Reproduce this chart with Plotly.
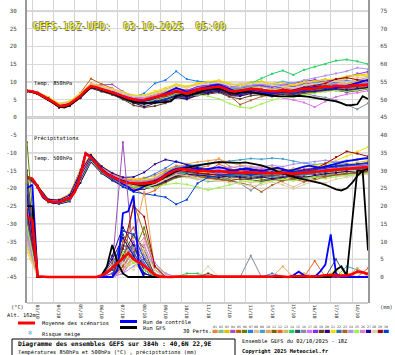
import plotly.graph_objects as go

# ---------------- data ----------------
H6 = list(range(0, 385, 6))      # hours since 02/10 18Z, 6-hourly
H12 = list(range(0, 385, 12))    # 12-hourly (perturbations)
DAY_GRID_H = [6 + 24 * k for k in range(16)]   # 00Z of each day
DAY_LABELS = ["03/10", "04/10", "05/10", "06/10", "07/10", "08/10", "09/10", "10/10",
              "11/10", "12/10", "13/10", "14/10", "15/10", "16/10", "17/10", "18/10"]
LEFT_TICKS = list(range(-45, 31, 5))
RIGHT_TICKS = list(range(0, 76, 5))

PERT_COLORS = ["#f08040", "#80c080", "#e0c000", "#a050c0", "#c06010", "#608000",
               "#2080f0", "#e0c090", "#40a0d0", "#f0a050", "#806000", "#f06020",
               "#c0c070", "#20d060", "#305070", "#8090a0", "#e070f0", "#8030f0",
               "#604020", "#300070", "#f0e000", "#3070b0", "#b06020", "#b090f0",
               "#a0f050", "#e080d0", "#2000a0", "#e0d0b0", "#a00000", "#0040d0"]

MEAN_850 = [7.5, 7.3, 6.8, 6.0, 5.3, 4.3, 3.3, 3.2, 3.8, 4.8,
            6.0, 7.6, 8.8, 8.5, 8.0, 7.6, 7.2, 6.6, 6.0, 5.4,
            5.0, 4.8, 4.9, 5.3, 5.6, 5.9, 6.3, 6.9, 7.5, 7.2,
            6.8, 7.3, 7.9, 8.1, 8.3, 8.5, 8.7, 8.2, 7.5, 7.3,
            7.5, 7.7, 8.0, 7.9, 7.7, 7.5, 7.3, 7.4, 7.6, 7.3,
            7.4, 7.8, 8.1, 8.0, 8.3, 8.5, 8.7, 8.6, 8.9, 8.8,
            8.7, 9.0, 9.1, 9.0, 9.2]
CTRL_850 = [7.5, 7.4, 6.9, 6.1, 5.2, 4.1, 3.1, 3.0, 3.6, 4.6,
            5.9, 7.5, 8.7, 8.4, 7.9, 7.4, 7.0, 6.3, 5.6, 5.0,
            4.5, 4.4, 4.6, 5.0, 5.5, 6.1, 6.8, 7.6, 8.3, 7.8,
            7.2, 7.6, 8.0, 8.4, 8.7, 9.0, 9.2, 8.6, 7.8, 7.4,
            7.1, 7.4, 7.8, 7.6, 7.3, 7.0, 6.9, 7.1, 7.4, 7.2,
            7.5, 8.0, 8.4, 8.2, 8.6, 8.8, 8.5, 8.3, 8.4, 8.6,
            8.9, 9.3, 9.8, 10.3, 10.6]
GFS_850 = [7.4, 7.2, 6.6, 5.8, 5.0, 4.0, 3.0, 2.8, 3.4, 4.5,
           5.7, 7.3, 8.5, 8.3, 7.7, 7.2, 6.8, 6.2, 5.5, 4.9,
           4.4, 4.2, 4.0, 4.0, 4.2, 4.2, 4.3, 4.5, 6.0, 6.5,
           6.0, 6.5, 7.0, 7.4, 7.8, 8.0, 8.1, 7.6, 7.0, 6.8,
           7.0, 7.2, 7.1, 6.8, 6.5, 6.3, 6.1, 6.0, 6.0, 5.8,
           5.9, 6.1, 6.0, 5.8, 5.5, 5.3, 5.0, 4.8, 4.5, 4.0,
           3.4, 3.5, 3.7, 6.0, 5.2]

MEAN_500 = [-16.8, -17.3, -19.5, -22.3, -23.5, -23.9, -23.8, -23.4, -22.8, -21.0,
            -16.5, -10.2, -11.3, -13.0, -14.8, -16.0, -16.8, -17.6, -18.2, -18.5,
            -18.7, -18.7, -18.7, -18.6, -18.3, -17.5, -16.3, -15.5, -14.8, -14.5,
            -14.6, -14.9, -15.1, -15.0, -15.2, -15.3, -15.1, -15.3, -15.5, -15.4,
            -15.6, -15.5, -15.5, -15.4, -15.6, -15.7, -15.8, -15.6, -15.7, -15.9,
            -15.8, -15.7, -15.6, -15.4, -15.5, -15.2, -15.0, -14.9, -14.8, -14.6,
            -14.5, -14.3, -14.2, -14.1, -14.0]
CTRL_500 = [-16.8, -17.4, -19.7, -22.6, -23.7, -24.1, -23.9, -23.5, -22.6, -20.5,
            -15.8, -10.0, -11.0, -12.8, -14.6, -15.9, -16.9, -17.9, -18.8, -19.6,
            -20.8, -20.2, -19.5, -18.9, -18.2, -17.3, -16.0, -15.1, -14.5, -14.2,
            -14.0, -14.3, -14.6, -14.8, -14.5, -14.2, -14.0, -14.3, -14.8, -15.0,
            -14.7, -14.4, -14.6, -14.9, -15.1, -14.8, -14.5, -14.2, -14.6, -15.0,
            -14.8, -14.3, -13.9, -13.6, -13.9, -14.2, -13.8, -13.4, -13.0, -12.6,
            -12.3, -12.1, -11.8, -11.6, -11.5]
GFS_500 = [-16.8, -17.3, -19.4, -22.4, -23.6, -24.0, -23.8, -23.3, -22.6, -20.6,
           -16.3, -10.4, -11.1, -12.9, -14.6, -15.8, -16.6, -17.3, -17.9, -18.4,
           -18.8, -19.0, -19.2, -18.9, -18.5, -17.6, -16.7, -16.0, -15.2, -14.6,
           -14.2, -13.8, -13.5, -13.2, -13.0, -12.8, -12.6, -12.7, -12.8, -12.9,
           -12.8, -12.7, -12.9, -13.2, -13.5, -14.0, -14.5, -15.2, -15.8, -16.3,
           -16.8, -17.2, -17.5, -17.8, -18.0, -18.5, -19.0, -19.6, -20.3, -20.6,
           -20.0, -18.5, -16.5, -15.0, -14.5]

MEAN_PREC = [17, 16, 0.2, 0, 0, 0, 0, 0, 0, 0,
             0, 0, 0, 0, 0.4, 1.3, 2.6, 4.0, 5.5, 6.7,
             5.0, 4.0, 3.2, 1.8, 0.6, 0.1, 0, 0, 0.1, 0.1,
             0, 0.1, 0, 0, 0.2, 0, 0.1, 0, 0, 0.2,
             0.1, 0, 0, 0.2, 0.1, 0, 0.1, 0.3, 0.1, 0,
             0.2, 0.3, 0.2, 0.1, 0.1, 0.3, 0.5, 0.6, 0.4, 0.3,
             0.4, 0.8, 1.5, 1.3, 0.8]
CTRL_PREC = [25, 26, 0, 0, 0, 0, 0, 0, 0, 0,
             0, 0, 0, 0, 0, 0, 0, 2, 18, 18.5,
             23, 3, 0, 0, 0, 0, 0, 0, 0, 0,
             0, 0, 0, 0, 0, 0, 0, 0, 0, 0,
             0, 0, 0, 0, 0, 0, 0, 0, 0, 0,
             0.5, 1.5, 0.5, 0, 0, 1.5, 3.5, 12, 1, 0,
             0, 0, 0, 0, 0]
GFS_PREC = [20, 20, 0, 0, 0, 0, 0, 0, 0, 0,
            0, 0, 0, 0, 0.5, 3, 9, 4, 1, 0,
            0, 0, 0, 0, 0, 0, 0, 0, 0, 0,
            0, 0, 0, 0, 0, 0, 0, 0, 0, 0,
            0, 0, 0, 0, 0, 0, 0, 0, 0, 0,
            0, 0, 0, 0, 0, 0, 0, 0, 2, 3,
            0.5, 15, 30, 30, 7.5]

T850_PERTS = [
    [7.6, 7.0, 5.5, 3.6, 4.0, 6.3, 9.3, 8.4, 7.8, 6.5, 5.6, 5.3, 6.5, 7.2, 8.3, 7.7, 8.6, 9.2, 9.4, 8.8, 8.1, 8.6, 8.9, 8.0, 8.4, 7.9, 8.8, 9.5, 9.0, 9.8, 9.6, 10.2, 9.9],
    [7.4, 6.6, 5.0, 2.9, 3.4, 5.8, 8.5, 7.6, 6.8, 5.4, 4.3, 4.0, 4.7, 5.5, 6.7, 6.2, 7.0, 7.4, 7.9, 6.8, 6.9, 7.3, 6.7, 6.5, 7.0, 6.4, 7.2, 7.6, 8.0, 8.1, 7.6, 8.3, 8.5],
    [7.5, 7.0, 5.6, 3.7, 4.3, 6.4, 9.0, 8.3, 7.9, 7.0, 6.1, 6.2, 7.0, 7.9, 9.2, 8.6, 9.5, 9.9, 10.3, 9.4, 9.0, 9.9, 10.2, 9.3, 9.0, 8.9, 9.7, 10.3, 10.8, 10.1, 11.4, 11.8, 12.3],
    [7.6, 7.1, 5.4, 3.5, 4.1, 6.6, 8.9, 9.2, 9.3, 7.3, 5.8, 5.6, 6.2, 7.0, 8.1, 7.6, 8.4, 9.0, 9.6, 8.4, 8.0, 9.1, 9.3, 8.8, 8.2, 8.6, 9.4, 9.8, 10.4, 10.7, 9.9, 10.5, 11.2],
    [7.5, 6.9, 5.5, 3.4, 4.2, 6.9, 10.9, 9.4, 8.2, 6.6, 5.4, 5.0, 5.9, 6.6, 7.5, 7.0, 8.0, 8.2, 8.5, 7.1, 6.8, 7.6, 7.4, 6.9, 7.5, 7.8, 8.4, 8.0, 8.6, 8.3, 8.0, 8.8, 9.0],
    [7.4, 6.7, 5.1, 3.0, 3.5, 5.6, 8.3, 7.4, 6.4, 5.1, 4.0, 3.6, 4.2, 4.9, 6.0, 5.3, 6.5, 7.2, 7.6, 6.4, 6.6, 7.2, 6.4, 6.1, 6.8, 6.3, 7.0, 7.2, 7.6, 7.9, 7.4, 8.0, 8.2],
    [7.5, 6.8, 5.2, 3.2, 3.9, 6.1, 8.9, 8.1, 7.4, 6.4, 5.7, 6.8, 9.6, 10.5, 13.0, 10.8, 10.2, 10.0, 9.8, 8.7, 8.4, 8.9, 9.0, 8.1, 8.5, 8.7, 9.2, 8.8, 9.5, 9.9, 10.4, 10.0, 10.6],
    [7.7, 7.2, 5.7, 3.9, 4.5, 6.5, 9.1, 8.6, 8.1, 7.2, 6.3, 6.0, 6.8, 7.6, 8.8, 8.2, 9.3, 9.6, 9.9, 9.2, 9.5, 9.8, 9.3, 8.6, 8.9, 8.2, 9.1, 9.5, 9.7, 10.3, 10.8, 11.3, 11.6],
    [7.5, 6.9, 5.3, 3.1, 3.7, 5.9, 8.7, 8.0, 7.0, 5.8, 4.7, 4.3, 5.1, 5.8, 6.9, 6.4, 7.6, 8.4, 9.0, 8.3, 8.7, 9.5, 9.2, 9.4, 10.1, 9.6, 10.3, 10.0, 9.4, 9.1, 8.8, 9.3, 9.6],
    [7.6, 7.1, 5.7, 3.8, 4.4, 6.8, 9.6, 8.9, 7.6, 6.4, 5.9, 5.7, 6.3, 7.1, 8.0, 7.4, 8.2, 8.7, 9.3, 8.0, 7.8, 8.5, 8.1, 7.5, 8.3, 9.1, 8.6, 8.5, 9.0, 9.3, 9.5, 10.1, 10.5],
    [7.4, 6.6, 4.9, 2.7, 3.2, 5.5, 8.4, 7.6, 6.7, 5.5, 4.2, 3.9, 4.5, 5.0, 6.2, 5.8, 6.8, 7.1, 7.4, 6.3, 6.1, 6.9, 7.1, 6.7, 7.2, 6.6, 7.3, 7.9, 8.1, 8.6, 8.3, 8.7, 8.9],
    [7.5, 6.9, 5.4, 3.3, 3.9, 6.2, 9.0, 8.2, 7.5, 6.2, 5.1, 4.6, 5.3, 6.2, 7.3, 6.6, 7.5, 8.0, 9.1, 7.9, 7.6, 8.3, 8.0, 7.7, 7.2, 7.0, 7.9, 8.4, 8.9, 8.6, 8.3, 8.6, 8.8],
    [7.6, 7.0, 5.6, 3.6, 4.0, 6.1, 8.8, 8.3, 7.7, 6.6, 5.7, 5.5, 6.1, 6.8, 7.9, 7.3, 8.1, 8.5, 8.7, 7.8, 7.9, 8.2, 8.6, 8.1, 8.0, 7.6, 8.3, 8.8, 9.4, 9.2, 9.8, 10.5, 10.9],
    [7.5, 6.8, 5.2, 3.3, 3.8, 5.9, 8.6, 7.8, 7.0, 5.9, 4.9, 4.6, 5.5, 6.3, 7.4, 6.9, 8.0, 8.6, 8.8, 8.2, 8.4, 9.6, 11.0, 12.3, 13.2, 12.0, 13.4, 14.3, 15.0, 16.0, 16.3, 15.8, 15.0],
    [7.4, 6.7, 5.0, 3.0, 3.6, 5.7, 8.6, 7.7, 6.9, 5.6, 4.4, 4.1, 4.6, 5.2, 6.4, 5.9, 7.2, 7.7, 8.2, 7.0, 7.1, 7.6, 7.2, 6.8, 7.3, 7.1, 7.8, 8.0, 8.3, 8.9, 8.5, 8.9, 9.3],
    [7.5, 6.8, 5.3, 3.2, 3.6, 5.8, 8.6, 7.9, 7.1, 5.7, 4.5, 4.2, 4.9, 5.6, 6.6, 6.0, 7.3, 7.5, 7.8, 6.9, 6.5, 7.0, 6.8, 6.3, 6.9, 6.2, 6.8, 6.1, 5.6, 4.8, 3.5, 2.3, 4.0],
    [7.6, 6.9, 5.4, 3.4, 4.1, 6.2, 8.9, 8.4, 7.9, 6.8, 5.8, 5.5, 6.0, 6.4, 7.2, 6.7, 7.6, 7.9, 8.3, 7.3, 7.0, 7.5, 7.0, 6.1, 5.6, 4.9, 4.2, 2.9, 4.5, 5.8, 6.5, 6.9, 7.5],
    [7.5, 6.9, 5.4, 3.5, 4.0, 6.0, 8.7, 8.1, 7.6, 6.2, 5.3, 5.2, 6.0, 6.9, 8.0, 7.5, 8.7, 9.2, 9.7, 8.6, 8.9, 9.3, 9.0, 8.5, 9.1, 9.6, 10.2, 10.6, 10.1, 10.8, 11.5, 12.4, 12.9],
    [7.4, 6.6, 5.0, 2.8, 3.3, 5.4, 8.2, 7.3, 6.4, 5.1, 3.4, 2.8, 3.2, 4.0, 5.6, 5.3, 6.3, 6.6, 7.0, 5.8, 5.2, 6.1, 6.4, 5.9, 6.5, 6.0, 6.8, 7.0, 7.4, 7.8, 7.1, 7.6, 8.0],
    [7.4, 6.7, 5.1, 2.9, 3.4, 5.6, 8.4, 7.5, 6.6, 5.3, 4.1, 3.0, 4.0, 4.5, 5.6, 5.1, 6.2, 6.9, 7.3, 6.1, 6.0, 6.7, 6.6, 6.2, 6.7, 6.5, 7.2, 7.5, 7.9, 7.6, 7.2, 7.9, 8.3],
    [7.6, 7.1, 5.8, 3.9, 4.6, 6.7, 9.2, 8.6, 8.0, 7.0, 6.2, 6.3, 7.4, 8.3, 9.4, 8.8, 9.7, 10.1, 10.5, 9.6, 9.1, 9.6, 9.9, 9.4, 9.8, 9.2, 10.0, 10.2, 10.5, 10.9, 11.6, 12.0, 11.7],
    [7.5, 6.8, 5.2, 3.1, 3.7, 5.9, 8.7, 7.9, 7.1, 5.8, 4.8, 4.5, 5.4, 6.1, 7.1, 6.6, 7.7, 8.3, 8.6, 7.6, 7.8, 8.3, 7.9, 7.4, 7.7, 7.4, 8.2, 8.5, 8.9, 9.4, 9.0, 9.5, 9.9],
    [7.5, 6.8, 5.3, 3.2, 3.8, 6.0, 8.9, 8.0, 7.2, 5.9, 4.7, 4.4, 5.0, 5.7, 6.8, 6.1, 7.0, 7.5, 7.9, 6.2, 3.6, 4.8, 5.9, 6.3, 6.9, 6.6, 7.4, 7.7, 8.2, 8.5, 8.1, 8.4, 8.6],
    [7.6, 7.0, 5.5, 3.5, 4.1, 6.3, 9.0, 8.4, 7.7, 6.5, 5.5, 5.3, 6.1, 6.8, 7.9, 7.3, 8.2, 8.7, 9.2, 8.3, 8.5, 9.1, 9.4, 9.0, 9.3, 9.7, 10.5, 11.1, 11.8, 12.4, 13.0, 14.0, 13.6],
    [7.5, 6.9, 5.3, 3.3, 3.8, 5.8, 8.5, 7.7, 6.8, 5.6, 4.6, 4.2, 4.8, 5.4, 6.5, 5.9, 6.4, 6.0, 5.2, 3.9, 2.9, 2.6, 3.8, 4.9, 5.8, 5.6, 6.4, 6.9, 7.3, 7.6, 7.3, 7.8, 8.1],
    [7.5, 6.8, 5.3, 3.4, 4.0, 6.1, 8.8, 8.2, 7.3, 6.0, 5.0, 4.8, 5.6, 6.5, 7.6, 7.1, 7.9, 8.2, 8.6, 7.4, 7.1, 7.8, 7.5, 7.0, 7.7, 8.0, 8.7, 9.0, 9.6, 9.4, 9.1, 9.7, 10.0],
    [7.4, 6.7, 5.1, 3.0, 3.5, 5.7, 8.6, 7.6, 6.7, 5.4, 4.3, 3.8, 4.4, 5.0, 6.1, 5.6, 6.7, 7.3, 7.7, 6.6, 6.4, 7.1, 6.9, 6.5, 7.1, 6.7, 7.5, 7.3, 7.8, 8.1, 7.7, 8.2, 8.5],
    [7.6, 7.0, 5.5, 3.6, 4.2, 6.4, 9.1, 8.5, 7.8, 6.7, 5.9, 5.9, 6.8, 7.7, 8.9, 8.3, 9.1, 9.4, 9.8, 8.9, 8.8, 9.4, 9.7, 9.1, 8.7, 8.3, 9.0, 9.4, 9.9, 10.2, 10.0, 10.6, 11.0],
    [7.5, 6.9, 5.4, 3.3, 3.9, 6.0, 8.8, 8.0, 7.2, 6.0, 5.0, 4.8, 5.5, 6.2, 7.2, 6.5, 7.4, 7.8, 8.2, 7.0, 6.7, 7.4, 7.6, 7.3, 7.9, 7.6, 8.5, 9.0, 9.6, 10.8, 11.2, 10.6, 10.3],
    [7.5, 6.8, 5.2, 3.1, 3.6, 5.7, 8.5, 7.7, 6.9, 5.5, 4.4, 4.0, 4.6, 5.2, 6.3, 5.9, 7.0, 7.6, 8.0, 6.9, 6.7, 7.3, 7.0, 6.6, 7.2, 6.8, 7.6, 7.9, 8.3, 8.7, 8.4, 8.9, 9.3],
]

T500_PERTS = [
    [-16.7, -19.2, -23.2, -23.5, -22.0, -15.8, -10.8, -14.2, -16.0, -17.1, -17.6, -17.0, -16.4, -14.9, -13.6, -13.8, -14.2, -13.7, -11.6, -13.8, -14.5, -14.0, -14.8, -15.2, -14.6, -15.0, -14.7, -14.1, -13.6, -13.2, -13.8, -13.1, -12.6],
    [-16.9, -19.8, -23.8, -24.3, -23.4, -17.8, -11.9, -15.2, -17.4, -18.9, -19.6, -19.4, -19.0, -17.5, -16.2, -16.8, -17.4, -18.1, -17.9, -17.2, -16.8, -16.5, -16.9, -17.3, -16.6, -17.0, -16.4, -16.9, -16.2, -15.8, -15.4, -15.6, -15.2],
    [-16.8, -19.4, -23.3, -23.6, -22.4, -16.2, -11.0, -14.5, -16.5, -17.9, -18.0, -17.6, -17.0, -15.2, -14.0, -13.9, -14.3, -14.5, -14.2, -14.9, -15.1, -14.8, -15.3, -14.6, -14.9, -15.2, -14.5, -14.9, -13.9, -14.1, -13.5, -12.7, -12.2],
    [-16.8, -19.6, -23.6, -24.0, -23.0, -17.0, -11.5, -14.9, -16.9, -18.6, -19.3, -18.9, -17.8, -15.7, -14.1, -13.8, -14.5, -15.0, -15.6, -16.2, -16.5, -15.9, -16.3, -16.6, -15.4, -15.9, -16.3, -15.7, -15.0, -14.8, -14.3, -14.6, -14.4],
    [-16.7, -19.3, -23.1, -23.2, -21.6, -14.8, -10.5, -13.9, -15.8, -17.4, -18.0, -18.2, -17.5, -16.0, -14.9, -14.6, -15.0, -15.5, -15.0, -15.8, -16.1, -15.7, -16.0, -16.3, -16.0, -16.4, -15.8, -15.3, -14.9, -14.5, -14.0, -13.8, -13.5],
    [-16.9, -19.7, -23.7, -24.1, -23.3, -17.5, -12.0, -15.4, -17.1, -18.5, -19.2, -19.6, -19.8, -18.4, -17.0, -16.6, -16.9, -17.2, -16.9, -17.3, -17.6, -17.0, -17.4, -17.8, -17.1, -16.9, -17.3, -16.7, -16.4, -16.0, -15.8, -16.1, -15.7],
    [-16.8, -19.4, -23.4, -23.7, -22.6, -16.4, -11.2, -14.6, -16.6, -17.7, -18.1, -17.3, -15.9, -14.3, -12.4, -13.2, -14.0, -14.6, -14.9, -15.3, -15.0, -14.6, -15.2, -15.5, -15.1, -14.8, -15.4, -15.0, -14.4, -14.1, -13.9, -13.4, -13.0],
    [-16.8, -19.5, -23.5, -23.9, -22.9, -16.7, -11.4, -14.9, -16.9, -18.4, -19.0, -19.3, -19.0, -17.6, -16.3, -16.9, -17.5, -17.1, -16.6, -17.0, -17.8, -18.4, -18.0, -17.5, -18.3, -19.6, -18.2, -17.0, -16.5, -16.2, -16.6, -16.0, -15.5],
    [-16.8, -19.5, -23.4, -23.7, -22.7, -16.3, -11.1, -14.7, -16.7, -18.0, -18.3, -18.0, -17.4, -15.5, -14.0, -13.6, -13.4, -13.0, -12.6, -12.3, -12.0, -11.6, -11.8, -11.5, -11.7, -12.4, -12.9, -13.3, -13.0, -12.6, -12.2, -11.9, -11.6],
    [-16.7, -19.2, -23.1, -23.3, -22.1, -15.6, -10.6, -13.8, -15.9, -17.3, -17.8, -17.9, -17.2, -15.6, -14.3, -13.1, -12.6, -12.2, -11.8, -12.7, -13.5, -13.8, -14.3, -14.0, -14.6, -15.1, -14.6, -14.2, -13.9, -13.4, -13.0, -13.3, -12.9],
    [-16.9, -19.8, -23.9, -24.4, -23.6, -18.3, -12.4, -15.6, -17.6, -19.1, -19.8, -20.1, -19.6, -18.0, -16.6, -16.0, -16.3, -16.8, -17.1, -16.6, -16.1, -16.5, -16.2, -16.8, -17.2, -16.6, -16.0, -15.6, -15.2, -15.5, -14.9, -14.6, -14.3],
    [-16.8, -19.4, -23.3, -23.6, -22.5, -16.0, -10.9, -14.1, -16.9, -18.8, -20.0, -21.8, -20.6, -18.1, -16.2, -15.0, -14.6, -14.9, -13.2, -14.3, -15.4, -15.9, -15.5, -15.0, -15.6, -14.4, -15.0, -15.4, -14.8, -14.2, -14.5, -14.0, -13.7],
    [-16.8, -19.6, -23.6, -24.0, -23.2, -17.2, -11.7, -15.1, -17.1, -18.3, -18.8, -18.6, -18.4, -17.3, -16.0, -15.8, -16.2, -16.5, -16.1, -16.6, -17.0, -16.3, -16.7, -17.1, -16.5, -17.4, -17.0, -16.5, -16.0, -15.3, -14.9, -15.2, -14.8],
    [-16.8, -19.5, -23.5, -23.8, -22.8, -16.6, -11.4, -14.8, -16.8, -18.3, -18.9, -19.1, -18.8, -17.0, -15.5, -15.9, -16.6, -17.3, -16.9, -16.3, -15.7, -15.2, -15.6, -16.0, -15.4, -14.8, -15.3, -14.6, -14.0, -13.5, -13.1, -13.6, -13.0],
    [-16.8, -19.6, -23.7, -24.2, -23.3, -17.6, -12.1, -15.3, -17.2, -18.6, -19.0, -18.7, -18.1, -16.7, -15.3, -15.1, -15.6, -15.9, -16.2, -16.8, -16.9, -16.4, -16.8, -16.3, -16.7, -16.2, -15.8, -16.1, -15.5, -15.0, -14.7, -14.4, -14.1],
    [-16.8, -19.5, -23.4, -23.8, -22.7, -16.5, -11.3, -14.7, -16.7, -18.1, -18.6, -18.5, -17.9, -16.4, -15.2, -15.4, -16.0, -16.4, -16.9, -17.7, -18.6, -20.6, -18.4, -17.0, -16.8, -16.2, -15.9, -15.4, -15.0, -14.6, -14.8, -14.3, -13.9],
    [-16.7, -19.3, -23.2, -23.4, -22.2, -15.9, -10.7, -14.0, -16.1, -17.5, -18.2, -18.4, -18.0, -16.8, -15.6, -15.3, -15.7, -15.1, -14.7, -15.0, -15.4, -15.0, -14.4, -14.8, -15.3, -16.0, -15.2, -14.8, -14.3, -13.9, -13.6, -13.2, -13.5],
    [-16.8, -19.5, -23.5, -23.9, -22.9, -16.8, -11.6, -15.0, -16.9, -18.2, -18.7, -18.4, -17.6, -15.9, -14.5, -14.7, -15.2, -15.6, -15.8, -15.4, -15.0, -15.3, -14.9, -15.5, -15.1, -15.4, -14.7, -14.3, -14.0, -13.6, -13.3, -13.8, -13.4],
    [-16.9, -19.7, -23.8, -24.3, -23.5, -18.0, -12.3, -15.5, -17.5, -19.0, -19.7, -19.9, -19.5, -18.2, -16.8, -16.4, -16.7, -17.0, -17.4, -17.9, -17.3, -17.6, -18.0, -17.5, -17.8, -17.2, -16.8, -17.1, -16.6, -16.2, -15.9, -15.6, -15.3],
    [-16.9, -19.8, -23.9, -24.4, -23.7, -18.5, -12.6, -15.8, -17.8, -19.5, -20.6, -20.2, -19.3, -17.9, -16.5, -16.0, -16.2, -16.5, -16.9, -16.4, -16.8, -17.2, -16.8, -17.3, -16.9, -16.5, -16.9, -16.3, -15.9, -15.6, -15.2, -15.5, -15.1],
    [-16.7, -19.2, -23.0, -23.2, -21.7, -15.2, -10.4, -13.7, -15.6, -16.9, -17.3, -17.5, -17.2, -16.0, -14.6, -14.9, -15.3, -15.7, -15.2, -14.8, -15.1, -15.6, -15.2, -14.7, -15.1, -14.5, -14.0, -13.6, -13.1, -12.2, -11.0, -9.6, -8.4],
    [-16.8, -19.6, -23.6, -24.0, -23.1, -17.1, -11.8, -15.0, -17.0, -18.4, -18.9, -18.8, -18.5, -17.2, -15.8, -15.5, -15.9, -16.2, -15.9, -16.4, -16.2, -15.8, -16.3, -16.7, -16.1, -16.5, -16.0, -15.5, -15.2, -14.9, -14.4, -14.7, -14.2],
    [-16.8, -19.5, -23.5, -23.9, -23.0, -17.0, -11.6, -14.9, -16.8, -18.3, -18.9, -19.0, -18.6, -17.2, -15.9, -16.3, -16.8, -17.2, -17.6, -17.9, -18.4, -19.2, -21.0, -19.1, -17.8, -17.4, -18.1, -17.6, -16.8, -16.3, -16.0, -15.7, -15.3],
    [-16.8, -19.4, -23.4, -23.7, -22.6, -16.3, -11.1, -14.5, -16.5, -17.8, -18.2, -18.0, -17.3, -15.7, -14.4, -14.1, -14.6, -14.9, -14.5, -14.1, -13.8, -14.2, -13.9, -13.5, -13.9, -13.2, -12.8, -12.5, -12.1, -12.6, -12.2, -11.8, -11.3],
    [-16.9, -19.7, -23.8, -24.2, -23.4, -17.8, -12.2, -15.5, -17.4, -18.9, -19.6, -19.9, -19.7, -18.9, -18.6, -18.9, -19.6, -20.5, -19.8, -19.0, -18.3, -17.8, -18.4, -17.9, -17.4, -17.9, -17.2, -16.8, -17.3, -16.7, -16.4, -16.0, -15.8],
    [-16.8, -19.5, -23.5, -23.8, -22.8, -16.6, -11.4, -14.8, -16.8, -18.2, -18.6, -18.3, -17.7, -16.1, -14.8, -14.5, -15.0, -15.3, -15.6, -15.9, -15.6, -15.4, -15.8, -15.2, -15.6, -15.9, -15.3, -14.9, -14.5, -14.1, -13.7, -13.9, -13.6],
    [-16.7, -19.3, -23.1, -23.3, -21.9, -15.5, -10.6, -13.8, -15.7, -16.9, -16.8, -15.5, -13.2, -11.9, -12.5, -13.4, -14.2, -14.8, -15.3, -15.0, -14.6, -14.9, -15.3, -15.6, -15.0, -15.3, -14.9, -14.4, -14.0, -13.8, -13.4, -13.1, -12.8],
    [-16.8, -19.6, -23.6, -23.9, -23.0, -17.1, -11.7, -15.1, -17.0, -18.5, -19.1, -19.2, -18.8, -17.4, -16.1, -16.4, -17.0, -17.5, -17.9, -18.4, -18.8, -19.3, -19.0, -18.2, -19.0, -20.2, -18.9, -18.0, -18.5, -17.4, -16.9, -16.4, -16.0],
    [-16.8, -19.5, -23.5, -23.8, -22.8, -16.5, -11.3, -14.7, -16.7, -18.1, -18.6, -18.4, -17.8, -16.2, -15.0, -15.2, -15.7, -16.0, -16.3, -16.0, -15.7, -16.1, -15.8, -15.5, -15.9, -16.3, -15.5, -14.6, -13.0, -11.2, -9.6, -10.2, -11.0],
    [-16.8, -19.6, -23.7, -24.1, -23.2, -17.4, -11.9, -15.3, -17.5, -19.6, -21.0, -21.5, -21.8, -22.5, -24.5, -23.2, -18.6, -16.9, -16.4, -16.0, -15.8, -16.2, -15.8, -15.4, -15.8, -15.5, -15.1, -14.8, -14.3, -13.9, -13.5, -13.2, -12.9],
]

PREC_PERTS = [
    [15, 0, 0, 0, 0, 0, 0, 0, 0, 4, 9, 3, 0, 0, 0, 0, 0, 0, 0, 0, 0, 0, 0, 0, 0, 0, 1, 0, 0, 0, 0, 0, 0],
    [22, 0, 0, 0, 0, 0, 0, 0, 0, 2, 6, 8, 2, 0, 0, 0, 0, 0, 0, 0, 0, 0, 0, 0, 0, 0, 0, 0, 0, 0, 0, 0, 0],
    [12, 0, 0, 0, 0, 0, 0, 0, 1, 6, 4, 1, 0, 0, 0, 0, 0, 0, 0, 0, 0, 0, 0, 0, 0, 0, 0, 0, 0, 0, 1, 0, 0],
    [18, 0, 0, 0, 0, 0, 0, 0, 3, 38, 5, 1, 0, 0, 0, 0, 0, 0, 0, 0, 0, 0, 0, 0, 0, 0, 0, 0, 0, 0, 0, 0, 0],
    [25, 0, 0, 0, 0, 0, 0, 0, 0, 10, 14, 6, 0, 0, 0, 0, 0, 0, 0, 0, 0, 0, 0, 0, 0, 0, 0, 0, 0, 0, 0, 0, 0],
    [38, 0, 0, 0, 0, 0, 0, 0, 0, 3, 7, 14, 3, 0, 0, 0, 0, 0, 0, 0, 0, 0, 0, 0, 0, 0, 0, 0, 0, 0, 0, 0, 0],
    [20, 0, 0, 0, 0, 0, 0, 0, 0, 7, 9, 4, 0, 0, 0, 0, 0, 0, 0, 0, 0, 0, 0, 1, 0, 0, 0, 0, 0, 0, 0, 0, 0],
    [10, 0, 0, 0, 0, 0, 0, 0, 0, 1, 5, 10, 4, 0, 0, 0, 0, 0, 0, 0, 0, 0, 0, 0, 0, 0, 0, 0, 0, 0, 0, 0, 0],
    [17, 0, 0, 0, 0, 0, 0, 0, 2, 8, 6, 1, 0, 0, 0, 0, 0, 0, 0, 0, 0, 0, 0, 0, 0, 0, 0, 0, 0, 0, 3, 2, 1],
    [14, 0, 0, 0, 0, 0, 0, 0, 0, 5, 11, 24, 2, 0, 0, 0, 0, 0, 0, 0, 0, 0, 0, 0, 3, 0, 0, 0, 0, 0, 0, 2.5, 0],
    [28, 0, 0, 0, 0, 0, 0, 0, 4, 9, 8, 3, 0, 0, 0, 0, 0, 0, 0, 0, 0, 0, 0, 0, 0, 0, 0, 0, 0, 0, 0, 0, 0],
    [16, 0, 0, 0, 0, 0, 0, 0, 0, 3, 8, 5, 0, 0, 0, 0, 0, 0, 0, 0, 0, 0, 0, 0, 0, 0, 0, 4.5, 0, 0, 0, 0, 2.5],
    [9, 0, 0, 0, 0, 0, 0, 0, 0, 2, 4, 7, 3, 1, 0, 0, 0, 0, 0, 0, 0, 0, 0, 0, 0, 0, 0, 0, 0, 0, 0, 0, 0],
    [19, 0, 0, 0, 0, 0, 0, 0, 0, 4, 9, 2, 0, 0, 0, 1, 1, 0, 0, 0, 0, 0, 0, 0, 0, 0, 0, 0, 0, 0, 0, 0, 0],
    [21, 0, 0, 0, 0, 0, 0, 0, 2, 12, 7, 2, 0, 0, 0, 0, 0, 0, 0, 0, 0, 0, 0, 0, 0, 0, 0, 0, 0, 5, 0, 0, 0],
    [13, 0, 0, 0, 0, 0, 0, 0, 0, 5, 8, 6, 1, 0, 0, 0, 0, 0, 0, 0, 0, 6, 0, 0, 0, 0, 0, 0, 0, 0, 0, 0, 0],
    [11, 0, 0, 0, 0, 0, 0, 0, 0, 1, 6, 9, 2, 0, 0, 0, 0, 0, 0, 0, 0, 0, 0, 0, 0, 0, 0, 0, 0, 0, 0, 0, 0],
    [24, 0, 0, 0, 0, 0, 0, 0, 1, 4, 10, 3, 0, 0, 0, 0, 0, 0, 0, 0, 0, 0, 0, 0, 0, 0, 0, 0, 0, 0, 0, 0, 0],
    [30, 0, 0, 0, 0, 0, 0, 0, 0, 6, 12, 8, 0, 0, 0, 0, 0, 1, 0, 0, 0, 0, 0, 0, 0, 0, 0, 0, 0, 0, 0, 0, 0],
    [18, 0, 0, 0, 0, 0, 0, 0, 6, 14, 9, 2, 0, 0, 0, 0, 0, 0, 0, 0, 0, 0, 0, 0, 0, 0, 0, 0, 0, 0, 0, 0, 0],
    [8, 0, 0, 0, 0, 0, 0, 0, 0, 2, 5, 3, 0, 0, 0, 0, 0, 0, 0, 0, 0, 0, 0, 0, 0, 0, 0, 0, 0, 2, 0, 0, 0],
    [16, 0, 0, 0, 0, 0, 0, 0, 0, 9, 7, 1, 0, 0, 0, 0, 0, 0, 0, 0, 0, 0, 0, 0, 0, 0, 0, 0, 0, 0, 0, 0, 0],
    [27, 0, 0, 0, 0, 0, 0, 0, 0, 3, 21, 12, 2, 0, 0, 0, 0, 0, 0, 0, 0, 0, 0, 0, 0, 0, 0, 0, 0, 0, 0, 0, 0],
    [12, 0, 0, 0, 0, 0, 0, 0, 0, 1, 3, 6, 4, 1, 0, 0, 0, 0, 0, 0, 0, 0, 0, 0, 0, 0, 0, 0, 0, 0, 0, 0, 0],
    [14, 0, 0, 0, 0, 0, 0, 0, 0, 7, 4, 2, 0, 0, 0, 0, 0, 0, 0, 0, 0, 0, 0, 0, 0, 0, 0, 0, 0, 0, 0, 0, 0],
    [20, 0, 0, 0, 0, 0, 0, 0, 0, 2, 8, 11, 3, 0, 0, 0, 0, 0, 0, 0, 0, 0, 0, 0, 0, 0, 0, 0, 0, 0, 0, 0, 0],
    [23, 0, 0, 0, 0, 0, 0, 0, 5, 11, 6, 1, 0, 0, 0, 0, 0, 0, 0, 0, 0, 0, 0, 0, 0, 0, 0, 0, 0, 0, 0, 0, 0],
    [7, 0, 0, 0, 0, 0, 0, 0, 0, 4, 2, 8, 2, 0, 0, 0, 0, 3, 0, 0, 0, 0, 0, 0, 0, 0, 1, 0, 0, 0, 0, 0, 0],
    [19, 0, 0, 0, 0, 0, 0, 0, 0, 8, 20, 17, 3, 0, 0, 0, 0, 0, 0, 0, 0, 0, 0, 0, 0, 0, 0, 0, 0, 0, 0, 0, 0],
    [26, 0, 0, 0, 0, 0, 0, 0, 0, 13, 12, 5, 0, 0, 0, 0, 0, 0, 0, 0, 0, 0, 0, 0, 0, 0, 0, 0, 0, 0, 0, 0, 0],
]

# ---------------- layout geometry ----------------
W, HGT = 395, 355
ML, MR, MT, MB = 27, 27, 0, 52
Y_RANGE = [-52.33, 33.1]
PREC_OFFSET = 45   # right axis = left axis + 45


def px(x):
    return (x - ML) / (W - ML - MR)


def py(y):
    return (HGT - MB - y) / (HGT - MT - MB)


MONO = "DejaVu Sans Mono"

fig = go.Figure()

# perturbations: temperatures
for k in range(30):
    for series in (T850_PERTS, T500_PERTS):
        fig.add_trace(go.Scatter(
            x=H12, y=series[k], mode="lines+markers",
            line=dict(color=PERT_COLORS[k], width=1),
            marker=dict(size=2, symbol="square", color=PERT_COLORS[k]),
            hoverinfo="skip", showlegend=False))

# control / GFS / mean temperatures
for ys, col, w in ((CTRL_850, "#0000ff", 1.8), (CTRL_500, "#0000ff", 1.8),
                   (GFS_850, "#000000", 1.8), (GFS_500, "#000000", 1.8),
                   (MEAN_850, "#ff0000", 2.6), (MEAN_500, "#ff0000", 2.6)):
    fig.add_trace(go.Scatter(x=H6, y=ys, mode="lines", line=dict(color=col, width=w),
                             hoverinfo="skip", showlegend=False))

# precipitation on right axis
for k in range(30):
    fig.add_trace(go.Scatter(
        x=H12, y=PREC_PERTS[k], yaxis="y2", mode="lines+markers",
        line=dict(color=PERT_COLORS[k], width=1),
        marker=dict(size=2, symbol="square", color=PERT_COLORS[k]),
        hoverinfo="skip", showlegend=False))
for ys, col, w in ((CTRL_PREC, "#0000ff", 1.8), (GFS_PREC, "#000000", 1.8),
                   (MEAN_PREC, "#ff0000", 2.6)):
    fig.add_trace(go.Scatter(x=H6, y=ys, yaxis="y2", mode="lines",
                             line=dict(color=col, width=w),
                             hoverinfo="skip", showlegend=False))

shapes = []
# darker grid every 10 degrees
for v in range(-40, 31, 10):
    if v == 0:
        continue
    shapes.append(dict(type="line", xref="paper", x0=0, x1=1, yref="y", y0=v, y1=v,
                       line=dict(color="#a8a8a8", width=1), layer="below"))
shapes.append(dict(type="line", xref="paper", x0=0, x1=1, yref="y", y0=0, y1=0,
                   line=dict(color="#999999", width=2), layer="below"))
shapes.append(dict(type="line", xref="paper", x0=0, x1=1, yref="paper", y0=0, y1=0,
                   line=dict(color="#999999", width=1), layer="below"))

# legend line samples
shapes.append(dict(type="line", xref="paper", yref="paper", x0=px(18), x1=px(35),
                   y0=py(323), y1=py(323), line=dict(color="#ff0000", width=3)))
shapes.append(dict(type="line", xref="paper", yref="paper", x0=px(120), x1=px(137),
                   y0=py(321.5), y1=py(321.5), line=dict(color="#0000ff", width=3)))
shapes.append(dict(type="line", xref="paper", yref="paper", x0=px(120), x1=px(137),
                   y0=py(327.5), y1=py(327.5), line=dict(color="#000000", width=3)))
# colour boxes for perturbations
for k in range(30):
    x0 = 212.5 + k * 5.9
    shapes.append(dict(type="rect", xref="paper", yref="paper", x0=px(x0), x1=px(x0 + 5.2),
                       y0=py(333), y1=py(329.8), line=dict(width=0),
                       fillcolor=PERT_COLORS[k]))
# caption box
shapes.append(dict(type="rect", xref="paper", yref="paper", x0=px(12), x1=px(235),
                   y0=py(358), y1=py(339), line=dict(color="#000000", width=1),
                   fillcolor="#ffffff"))

ann = []


def txt(t, x, y, size=5.3, color="#000000", anchor="left", weight="normal", **kw):
    ann.append(dict(text=t, xref="paper", yref="paper", x=px(x), y=py(y), xanchor=anchor,
                    yanchor="middle", showarrow=False,
                    font=dict(family=MONO, size=size, color=color, weight=weight), **kw))


# title
ann.append(dict(text="GEFS-18Z-UPD:\u00a0\u00a003-10-2025\u00a0\u00a005:00", xref="paper",
                yref="paper", x=px(31), y=py(27), xanchor="left", yanchor="middle",
                showarrow=False,
                font=dict(family=MONO, size=10, color="#eeee00",
                          shadow="1px 1px 0px #707070, -1px -1px 0px #909090")))

# in-plot labels
ann.append(dict(text="Temp. 850hPa", xref="x", yref="paper", x=6, y=py(83), xanchor="left",
                yanchor="middle", showarrow=False, font=dict(family=MONO, size=5.3, color="#000")))
ann.append(dict(text="Précipitations", xref="x", yref="paper", x=6, y=py(138), xanchor="left",
                yanchor="middle", showarrow=False, font=dict(family=MONO, size=5.3, color="#000")))
ann.append(dict(text="Temp. 500hPa", xref="x", yref="paper", x=6, y=py(158), xanchor="left",
                yanchor="middle", showarrow=False, font=dict(family=MONO, size=5.3, color="#000")))

# date labels (rotated)
for h, lab in zip(DAY_GRID_H, DAY_LABELS):
    ann.append(dict(text=lab, xref="x", yref="paper", x=h + 6, y=py(311.5), xanchor="center",
                    yanchor="middle", textangle=90, showarrow=False,
                    font=dict(family=MONO, size=4.6, color="#333333")))

txt("(°C)", 17, 307, anchor="center", color="#333333")
txt("(mm)", 386, 307, anchor="center", color="#333333")
txt("Alt. 162m", 5, 315, color="#000000")
txt("Moyenne des scénarios", 40, 323)
txt("Run de contrôle", 141, 321.5)
txt("Run GFS", 141, 327.5)
txt("\u2744", 30, 333, size=7, color="#6ab4f0", anchor="center")
txt("Risque neige", 40, 334)
txt("30 Perts.", 181, 331)
for k in range(30):
    txt("%02d" % (k + 1), 212.5 + k * 5.9 + 2.6, 326.8, size=3.2, anchor="center",
        color="#333333")
txt("Diagramme des ensembles GEFS sur 384h : 40,6N 22,9E", 16, 343.5, size=6.3,
    weight="bold")
txt("Températures 850hPa et 500hPa (°C) , précipitations (mm)", 16, 352, size=5.3)
txt("Ensemble GEFS du 02/10/2025 - 18Z", 240, 341, size=5.3)
txt("Copyright 2025 Meteociel.fr", 240, 351, size=5.3, weight="bold")

fig.update_layout(
    width=W, height=HGT, margin=dict(l=ML, r=MR, t=MT, b=MB, autoexpand=False),
    paper_bgcolor="#ffffff", plot_bgcolor="#ffffff", showlegend=False,
    xaxis=dict(range=[0, 384], tickvals=DAY_GRID_H, showticklabels=False, ticks="",
               showgrid=True, gridcolor="#d4d4d4", gridwidth=1, zeroline=False,
               showline=False, fixedrange=True),
    yaxis=dict(range=Y_RANGE, tickvals=LEFT_TICKS, ticktext=[str(v) for v in LEFT_TICKS],
               showgrid=True, gridcolor="#dadada", gridwidth=1, zeroline=False,
               showline=True, linecolor="#999999", linewidth=2, ticks="",
               ticklabelstandoff=7,
               tickfont=dict(family=MONO, size=5.8, color="#444444")),
    yaxis2=dict(range=[Y_RANGE[0] + PREC_OFFSET, Y_RANGE[1] + PREC_OFFSET],
                tickvals=RIGHT_TICKS, ticktext=[str(v) for v in RIGHT_TICKS],
                overlaying="y", side="right", showgrid=False, zeroline=False,
                showline=True, linecolor="#999999", linewidth=2, ticks="",
                ticklabelstandoff=9,
                tickfont=dict(family=MONO, size=5.8, color="#444444")),
    shapes=shapes, annotations=ann,
)

fig.write_html("out.html")
